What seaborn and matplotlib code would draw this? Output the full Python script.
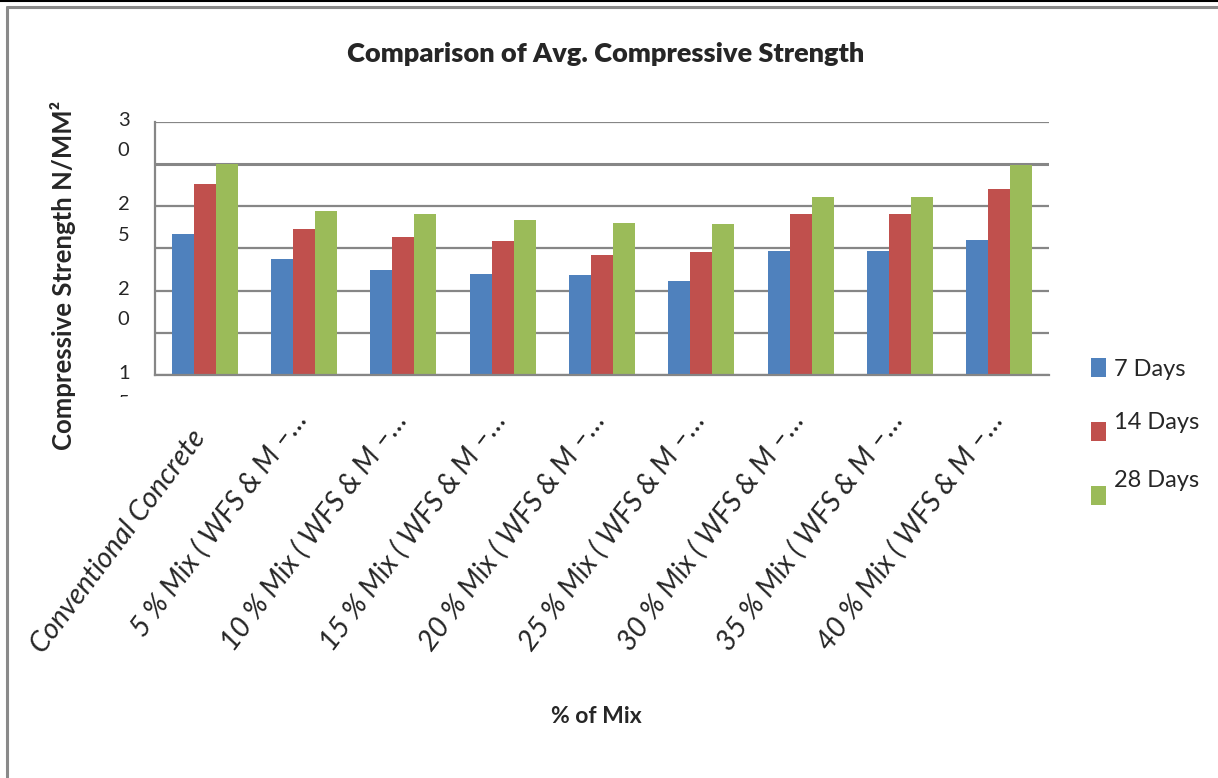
import numpy as np
import pandas as pd
import matplotlib
matplotlib.use("Agg")
import matplotlib.pyplot as plt
import matplotlib.transforms as mtransforms
from matplotlib.lines import Line2D
import seaborn as sns

# ---- data -------------------------------------------------------------
mixes = [
    "Conventional Concrete",
    "5 % Mix ( WFS & M \u2013\u2026",
    "10 % Mix ( WFS & M \u2013\u2026",
    "15 % Mix ( WFS & M \u2013\u2026",
    "20 % Mix ( WFS & M \u2013\u2026",
    "25 % Mix ( WFS & M \u2013\u2026",
    "30 % Mix ( WFS & M \u2013\u2026",
    "35 % Mix ( WFS & M \u2013\u2026",
    "40 % Mix ( WFS & M \u2013\u2026",
]
days_7 = [16.7, 13.75, 12.45, 12.0, 11.85, 11.15, 14.7, 14.7, 16.0]
days_14 = [22.65, 17.3, 16.35, 15.9, 14.25, 14.6, 19.1, 19.1, 22.05]
days_28 = [25.0, 19.45, 19.1, 18.4, 18.0, 17.9, 21.1, 21.1, 24.9]
series_names = ["7 Days", "14 Days", "28 Days"]
series_colors = ["#4F81BD", "#C0504D", "#9BBB59"]

ytick_values = [0, 10, 20, 30]
ytick_labels = ["1\n5", "2\n0", "2\n5", "3\n0"]
grid_values = [0, 5, 10, 15, 20, 25, 30]

df = pd.DataFrame({
    "mix": mixes * 3,
    "strength": days_7 + days_14 + days_28,
    "age": [n for n in series_names for _ in mixes],
})

# ---- style ------------------------------------------------------------
sns.set_style("white")
plt.rcParams["font.family"] = ["Lato", "DejaVu Sans"]
GRID = "#868686"

W, H = 1218, 778
fig = plt.figure(figsize=(W / 100, H / 100), dpi=100)
ax = fig.add_axes([155 / W, 1 - 375 / H, (1049 - 155) / W, (375 - 122) / H])

sns.barplot(data=df, x="mix", y="strength", hue="age", palette=series_colors,
            width=2 / 3, saturation=1, linewidth=0, ax=ax)

ax.set_xlim(-0.5, len(mixes) - 0.5)
ax.set_ylim(0, 30)

# gridlines / spines
ax.set_yticks(ytick_values)
ax.set_yticks([v for v in grid_values if v not in ytick_values], minor=True)
ax.grid(False)
for v in grid_values:
    ax.axhline(v, color=GRID, lw=1.6 if v != 25 else 2.2, zorder=0.5)
for side in ("top", "right"):
    ax.spines[side].set_visible(False)
for side in ("left", "bottom"):
    ax.spines[side].set_color(GRID)
    ax.spines[side].set_linewidth(1.6)

# x ticks: marks at category boundaries, labels at centres
ax.set_xticks(np.arange(len(mixes)))
ax.set_xticks(np.arange(-0.5, len(mixes), 1), minor=True)
ax.tick_params(axis="x", which="major", length=0, pad=0)
ax.tick_params(axis="x", which="minor", length=7.5, width=1.6, color=GRID,
               direction="out")
ax.tick_params(axis="y", which="both", length=6, width=1.6, color=GRID,
               direction="out", pad=11.5)
ax.set_xticklabels(mixes, rotation=53, ha="right", va="center",
                   rotation_mode="anchor", fontsize=20.5, style="italic")
ax.set_yticklabels(ytick_labels, fontsize=14.5)

for i, lbl in enumerate(ax.get_xticklabels()):
    dx = -4 if i == 0 else -2
    dy = -58 if i == 0 else -40
    lbl.set_transform(lbl.get_transform() + mtransforms.ScaledTranslation(
        dx / 100, dy / 100, fig.dpi_scale_trans))

for lbl in ax.get_yticklabels():
    lbl.set_va("top")
    lbl.set_ha("center")
    lbl.set_multialignment("center")
    lbl.set_linespacing(1.95)
    lbl.set_transform(lbl.get_transform() + mtransforms.ScaledTranslation(
        -7 / 100, 10 / 100, fig.dpi_scale_trans))
# the lowest label is cut off by the plot frame
low = ax.get_yticklabels()[0]
low.set_clip_box(mtransforms.Bbox.from_extents(0, H - 397, W, H))
low.set_clip_on(True)

# axis titles
ax.set_ylabel("Compressive Strength N/MM\u00b2", fontsize=18.5, fontweight="bold")
ax.yaxis.set_label_coords((76 - 155) / (1049 - 155), (375 - 275) / (375 - 122))
ax.set_xlabel("% of Mix", fontsize=16.5, fontweight="bold")
ax.xaxis.set_label_coords((596 - 155) / (1049 - 155), (375 - 706) / (375 - 122))

fig.suptitle("Comparison of Avg. Compressive Strength", x=606 / W, y=1 - 54 / H,
             va="center", fontsize=19.5, fontweight="heavy")

# legend
sns.move_legend(ax, "upper left", bbox_to_anchor=(1091 / W, 1 - 358 / H),
                bbox_transform=fig.transFigure, frameon=False, title=None,
                fontsize=17, handlelength=0.64, handleheight=0.85,
                handletextpad=0.35, labelspacing=1.8, borderpad=0,
                borderaxespad=0)
for txt, lift in zip(ax.get_legend().get_texts(), [0, 11, 17]):
    txt.set_y(lift)

# chart frame
fig.add_artist(Line2D([0, 1], [1 - 1 / H, 1 - 1 / H], transform=fig.transFigure,
                      color="black", lw=1.5))
fig.add_artist(Line2D([6.5 / W, 1], [1 - 6.5 / H, 1 - 6.5 / H],
                      transform=fig.transFigure, color="#8a8a8a", lw=2.2))
fig.add_artist(Line2D([6.5 / W, 6.5 / W], [0, 1 - 6.5 / H],
                      transform=fig.transFigure, color="#8a8a8a", lw=2.2))

fig.savefig("out.png", dpi=100)
